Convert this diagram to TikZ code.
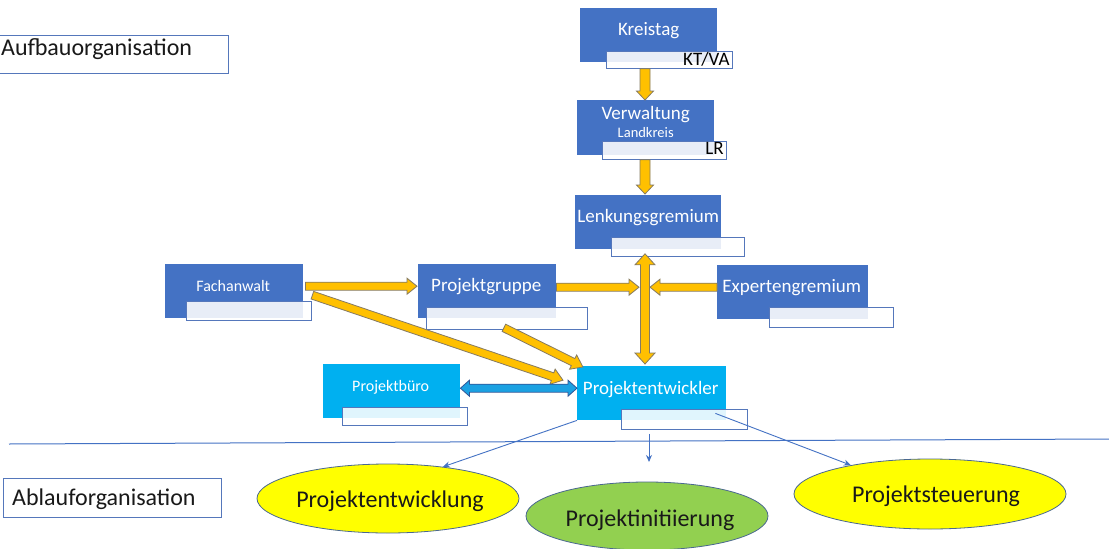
\documentclass[tikz,border=0pt]{standalone}
\usepackage{fontspec}
\setmainfont{Carlito}
\usetikzlibrary{calc,shapes.geometric,arrows.meta}
\definecolor{obl}{HTML}{4472C4}
\definecolor{ocy}{HTML}{00B0F0}
\definecolor{lbl}{HTML}{5577BB}
\definecolor{org}{HTML}{FFC000}
\definecolor{orgline}{HTML}{857A62}
\definecolor{barf}{HTML}{1BA1E2}
\definecolor{barl}{HTML}{2F5597}
\definecolor{ylw}{HTML}{FFFF00}
\definecolor{grn}{HTML}{92D050}
\definecolor{ellline}{HTML}{4A6890}
\newcommand\fatarrow[6]{%
  \filldraw[#1] let \p1=#2, \p2=#3, \n1={atan2(\y2-\y1,\x2-\x1)},
    \n2={veclen(\x2-\x1,\y2-\y1)}, \n3={\n2-#6} in
    [shift={(\p1)}, rotate=\n1]
    (0pt,-#4pt) -- (\n3,-#4pt) -- (\n3,-#5pt) -- (\n2,0pt)
    -- (\n3,#5pt) -- (\n3,#4pt) -- (0pt,#4pt) -- cycle;}
\newcommand\fatdarrow[6]{%
  \filldraw[#1] let \p1=#2, \p2=#3, \n1={atan2(\y2-\y1,\x2-\x1)},
    \n2={veclen(\x2-\x1,\y2-\y1)}, \n3={\n2-#6} in
    [shift={(\p1)}, rotate=\n1]
    (0pt,0pt) -- (#6pt,-#5pt) -- (#6pt,-#4pt) -- (\n3,-#4pt) -- (\n3,-#5pt) -- (\n2,0pt)
    -- (\n3,#5pt) -- (\n3,#4pt) -- (#6pt,#4pt) -- (#6pt,#5pt) -- cycle;}
\begin{document}
\begin{tikzpicture}[x=1pt,y=-1pt,
  ubox/.style={fill=obl, draw=none, anchor=north west, inner sep=0},
  cbox/.style={fill=ocy, draw=none, anchor=north west, inner sep=0},
  lbox/.style={fill=white, fill opacity=0.88, text opacity=1, draw=lbl, line width=0.8pt, anchor=north west, inner sep=0},
  wt/.style={text=white, inner sep=0, anchor=base, font=\fontsize{19}{22}\selectfont},
  wts/.style={text=white, inner sep=0, anchor=base, font=\fontsize{16}{19}\selectfont},
  bt/.style={text=black, inner sep=0, font=\fontsize{19}{22}\selectfont},
  big/.style={text=black!90, inner sep=0, anchor=base, font=\fontsize{24}{28}\selectfont},
  oval/.style={ellipse, draw=ellline, line width=0.8pt, inner sep=0},
  oarr/.style={fill=org, draw=orgline, line width=0.8pt},
  barr/.style={fill=barf, draw=barl, line width=0.8pt},
  thin/.style={draw=obl, line width=0.9pt, -{Stealth[length=7pt,width=6pt]}},
  sbox/.style={fill=white, draw=lbl, line width=0.8pt, anchor=north west, inner sep=0}]
\fill[white] (0,0) rectangle (1109,549);
\useasboundingbox (0,0) rectangle (1109,549);

% section boxes
\node[sbox, minimum width=233pt, minimum height=38pt] (auf) at (-5,35) {};
\node[big, anchor=base west] at (1,55) {Aufbauorganisation};
\node[sbox, minimum width=218pt, minimum height=39pt] (abl) at (3,478) {};
\node[big, anchor=base west] at (12,505) {Ablauforganisation};

% separator
\coordinate (hl) at (9,444);
\coordinate (hr) at (1109,439);
\draw[obl, line width=1pt] (hl) -- (hr);

% boxes
\node[ubox, minimum width=137pt, minimum height=54pt] (kt) at (580,8) {};
\node[wt] at ($(kt.north)+(0,27)$) {Kreistag};
\node[lbox, minimum width=126pt, minimum height=17pt] (kl) at (606,51) {};
\node[bt, anchor=base east] at ($(kl.south east)+(-3,-3)$) {KT/VA};

\node[ubox, minimum width=137pt, minimum height=55pt] (vw) at (577,100) {};
\node[wt] at ($(vw.north)+(0,19)$) {Verwaltung};
\node[wts, font=\fontsize{14.5}{17}\selectfont] at ($(vw.north)+(0,37)$) {Landkreis};
\node[lbox, minimum width=124pt, minimum height=18pt] (vl) at (602,141) {};
\node[bt, anchor=base east] at ($(vl.south east)+(-3,-5)$) {LR};

\node[ubox, minimum width=146pt, minimum height=54pt] (lk) at (575,195) {};
\node[wt] at ($(lk.north)+(0,27)$) {Lenkungsgremium};
\node[lbox, minimum width=133pt, minimum height=19pt] (lkl) at (611,237) {};

\node[ubox, minimum width=138pt, minimum height=54pt] (fa) at (165,264) {};
\node[wts] at ($(fa.north)+(-1,27)$) {Fachanwalt};
\node[lbox, minimum width=125pt, minimum height=19pt] (fal) at (186,301) {};

\node[ubox, minimum width=138pt, minimum height=54pt] (pg) at (418,264) {};
\node[wt] at ($(pg.north)+(-1,27)$) {Projektgruppe};
\node[lbox, minimum width=161pt, minimum height=22pt] (pgl) at (426,307) {};

\node[ubox, minimum width=151pt, minimum height=54pt] (eg) at (717,265) {};
\node[wt] at ($(eg.north)+(-1,27)$) {Expertengremium};
\node[lbox, minimum width=124pt, minimum height=20pt] (egl) at (769,307) {};

\node[cbox, minimum width=149pt, minimum height=54pt] (pe) at (577,366) {};
\node[wt] at ($(pe.north)+(-1,28)$) {Projektentwickler};
\node[lbox, minimum width=126pt, minimum height=20pt] (pel) at (621,409) {};

\node[cbox, minimum width=137pt, minimum height=54pt] (pb) at (323,364) {};
\node[wts] at ($(pb.north)+(-1,27)$) {Projektbüro};
\node[lbox, minimum width=125pt, minimum height=18pt] (pbl) at (342,407) {};

% ellipses
\node[oval, fill=ylw, minimum width=262pt, minimum height=69pt] (e1) at (388,498.5) {};
\node[big] at ($(e1.center)+(2,8.5)$) {Projektentwicklung};
\node[oval, fill=grn, minimum width=242pt, minimum height=68pt] (e2) at (647,516) {};
\node[big] at ($(e2.center)+(3,10)$) {Projektinitiierung};
\node[oval, fill=ylw, minimum width=272pt, minimum height=70pt] (e3) at (930,494) {};
\node[big] at ($(e3.center)+(6,8)$) {Projektsteuerung};

% axis of the vertical arrows
\coordinate (ax) at (645,0);

% orange arrows
\fatarrow{oarr}{(kl.south -| ax)}{(vw.north -| ax)}{5}{8.5}{9}
\fatarrow{oarr}{(vl.south -| ax)}{($(lk.north -| ax)+(0,-1)$)}{5}{8.5}{9}
\fatdarrow{oarr}{($(lkl.south -| ax)+(0,-3)$)}{($(pe.north -| ax)+(0,-2)$)}{4.5}{10}{11}
\fatarrow{oarr}{($(fa.east)+(2,-5)$)}{($(pg.west)+(-1,-5)$)}{4}{8}{10}
\fatarrow{oarr}{($(pg.east)+(0,-4)$)}{($(pg.east -| ax)+(-6,-4)$)}{4}{8}{10}
\fatarrow{oarr}{($(eg.west)+(0,-5)$)}{($(eg.west -| ax)+(5,-5)$)}{4}{8}{10}
\fatarrow{oarr}{($(fa.east)+(9,4)$)}{($(pe.west)+(-14,-13)$)}{4}{8}{11}
\fatarrow{oarr}{($(pgl.south)+(-3,-2)$)}{($(pe.north west)+(6,1)$)}{4}{8}{11}

% blue double arrow
\fatdarrow{barr}{($(pb.east)+(0,-3)$)}{($(pe.west)+(0,-5)$)}{4}{8}{9}

% thin arrows
\coordinate (mtip) at (649,462);
\draw[thin] (pe.south west) -- (e1.30);
\draw[thin] ($(pel.south west)+(28,4)$) -- (mtip);
\draw[thin] ($(pe.south east)+(-11,-7)$) -- (e3.160);
\end{tikzpicture}
\end{document}
